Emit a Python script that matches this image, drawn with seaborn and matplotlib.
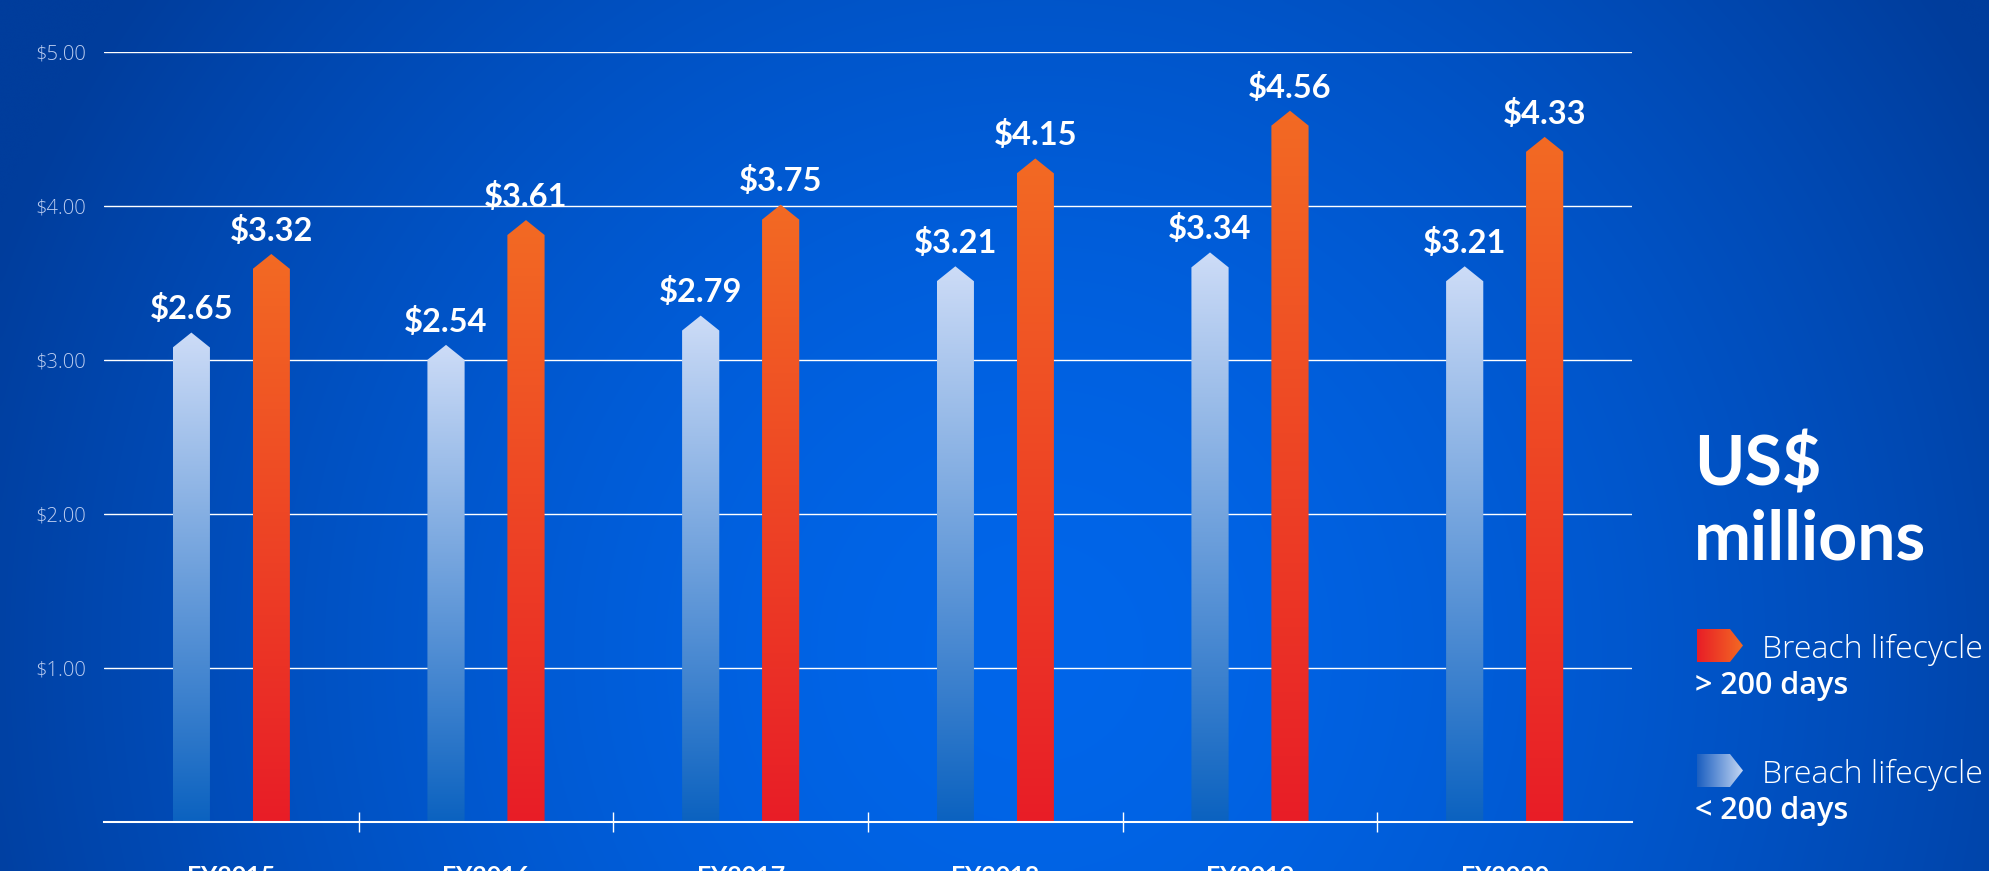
import numpy as np
import pandas as pd
import matplotlib
matplotlib.use("Agg")
import matplotlib.pyplot as plt
from matplotlib.colors import to_rgba
from matplotlib.patches import Polygon
import seaborn as sns

# -------------------- DATA --------------------
years = ["FY2015", "FY2016", "FY2017", "FY2018", "FY2019", "FY2020"]
groups = ["< 200 days", "> 200 days"]
# printed values (US$ millions)
short_values = [2.65, 2.54, 2.79, 3.21, 3.34, 3.21]
long_values = [3.32, 3.61, 3.75, 4.15, 4.56, 4.33]
# bar heights as drawn in the original (shoulder of the arrow)
short_heights = [3.08, 3.00, 3.19, 3.51, 3.60, 3.51]
long_heights = [3.59, 3.81, 3.91, 4.21, 4.52, 4.35]
y_ticks = [1, 2, 3, 4, 5]

df = pd.DataFrame({
    "year": years * 2,
    "group": [groups[0]] * len(years) + [groups[1]] * len(years),
    "height": short_heights + long_heights,
    "value": short_values + long_values,
})

# -------------------- STYLE --------------------
sns.set_theme(style="white")
plt.rcParams["font.family"] = ["Lato", "DejaVu Sans"]

W, H, DPI = 1989, 871, 100
TIP = 0.097  # arrow tip height in data units

SHORT_TOP, SHORT_BOT = "#cddcf7", "#0b62c0"
LONG_TOP, LONG_BOT = "#f36a23", "#e81d27"


def gradient(c_bottom, c_top, n=256, horizontal=False):
    a = np.array(to_rgba(c_bottom))
    b = np.array(to_rgba(c_top))
    t = np.linspace(0, 1, n)[:, None]
    g = a * (1 - t) + b * t
    if horizontal:
        return g[None, :, :]
    return g[:, None, :]


fig = plt.figure(figsize=(W / DPI, H / DPI), dpi=DPI)

# background
ax_bg = fig.add_axes([0, 0, 1, 1], zorder=0)
xx, yy = np.meshgrid(np.linspace(0, 1, 400), np.linspace(0, 1, 200))
r = np.sqrt(((xx - 0.52) / 0.56) ** 2 + ((yy - 0.75) / 1.3) ** 2)
r = np.clip(r, 0, 1) ** 1.6
c_mid = np.array(to_rgba("#0066ea"))
c_edge = np.array(to_rgba("#003d9c"))
bg = c_mid * (1 - r[..., None]) + c_edge * r[..., None]
ax_bg.imshow(bg, extent=[0, W, H, 0], aspect="auto", interpolation="bicubic")
ax_bg.set_xlim(0, W)
ax_bg.set_ylim(H, 0)
ax_bg.axis("off")

# main chart
ax = fig.add_axes([104 / W, 1 - 822 / H, (1632 - 104) / W, (822 - 51.7) / H], zorder=1)
ax.set_facecolor("none")

sns.barplot(data=df, x="year", y="height", hue="group", hue_order=groups,
            order=years, width=0.628, gap=0.535, errorbar=None,
            legend=False, ax=ax)

colors = [(SHORT_BOT, SHORT_TOP), (LONG_BOT, LONG_TOP)]
for cont, grp, (cb, ct) in zip(ax.containers, groups, colors):
    vals = df[df["group"] == grp]["value"].tolist()
    for bar, v in zip(cont.patches, vals):
        x0, w, h = bar.get_x(), bar.get_width(), bar.get_height()
        bar.set_visible(False)
        xc = x0 + w / 2
        verts = [(x0, 0), (x0, h), (xc, h + TIP), (x0 + w, h), (x0 + w, 0)]
        poly = Polygon(verts, closed=True, facecolor="none", edgecolor="none")
        ax.add_patch(poly)
        im = ax.imshow(gradient(cb, ct), extent=[x0, x0 + w, 0, h + TIP],
                       origin="lower", aspect="auto", zorder=2)
        im.set_clip_path(poly)
        ax.annotate(f"${v:.2f}", (xc, h + TIP), xytext=(0, 9.5),
                    textcoords="offset points", ha="center", va="baseline",
                    color="white", fontsize=23.5, fontweight="bold")

ax.set_xlim(-0.5, len(years) - 0.5)
ax.set_ylim(0, 5)
ax.set_xlabel("")
ax.set_ylabel("")

ax.set_yticks(y_ticks)
ax.set_yticklabels([f"${t:.2f}" for t in y_ticks],
                   fontdict={"family": ["Open Sans", "DejaVu Sans"], "weight": "light"})
ax.tick_params(axis="y", length=0, pad=13, labelsize=14.5, labelcolor="#bccdf0")
ax.yaxis.grid(True, color=(1, 1, 1, 0.24), linewidth=1.0)
ax.xaxis.grid(False)
ax.set_axisbelow(True)

ax.set_xticks(range(len(years)))
ax.set_xticklabels(years)
ax.set_xticks([i + 0.5 for i in range(len(years) - 1)], minor=True)
ax.tick_params(axis="x", which="major", length=0, pad=31, labelsize=18,
               labelcolor="white")
for lab in ax.get_xticklabels():
    lab.set_fontweight("bold")
ax.tick_params(axis="x", which="minor", direction="inout", length=14.4,
               width=1, color="white", bottom=True)

for s in ["left", "top", "right"]:
    ax.spines[s].set_visible(False)
ax.spines["bottom"].set_color("white")
ax.spines["bottom"].set_linewidth(1.5)

# -------------------- LEGEND (pixel coords on background axes) --------------------
ax_bg.text(1694, 485, "US$", color="white", fontsize=49, fontweight="bold",
           va="baseline", ha="left")
ax_bg.text(1694, 559, "millions", color="white", fontsize=49, fontweight="bold",
           va="baseline", ha="left")

legend_items = [
    (groups[1], 629, (LONG_BOT, LONG_TOP)),
    (groups[0], 754, ("#1a5ec0", "#c3d6f3")),
]
for label, top, (c_left, c_right) in legend_items:
    x0, x1, xt, hgt = 1697, 1730, 1743, 33
    verts = [(x0, top), (x1, top), (xt, top + hgt / 2), (x1, top + hgt), (x0, top + hgt)]
    poly = Polygon(verts, closed=True, facecolor="none", edgecolor="none")
    ax_bg.add_patch(poly)
    im = ax_bg.imshow(gradient(c_left, c_right, horizontal=True),
                      extent=[x0, xt, top + hgt, top], aspect="auto", zorder=3)
    im.set_clip_path(poly)
    ax_bg.text(1762, top + 29, "Breach lifecycle", color="white", fontsize=23,
               family=["Open Sans", "DejaVu Sans"], fontweight="light",
               va="baseline", ha="left")
    ax_bg.text(1695, top + 65, label, color="white", fontsize=22,
               family=["Open Sans", "DejaVu Sans"], fontweight="semibold",
               va="baseline", ha="left")

ax_bg.set_xlim(0, W)
ax_bg.set_ylim(H, 0)

fig.savefig("out.png", dpi=DPI)
plt.close(fig)
